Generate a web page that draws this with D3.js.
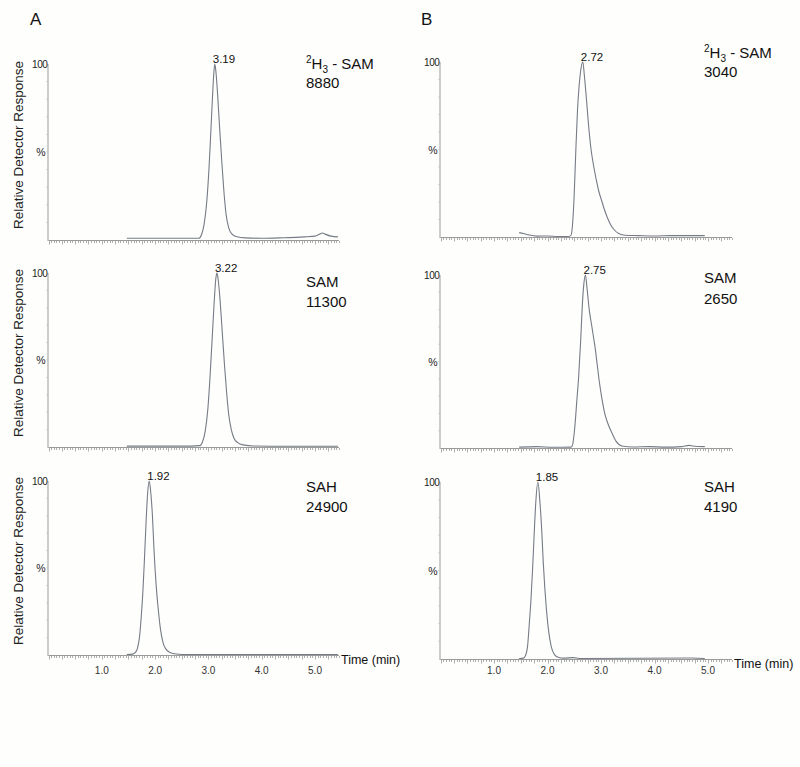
<!DOCTYPE html>
<html><head><meta charset="utf-8">
<script src="https://cdn.jsdelivr.net/npm/d3@7"></script>
<style>
html,body{margin:0;padding:0;background:#fefefc;}
svg{display:block;font-family:"Liberation Sans",Arial,sans-serif;}
</style></head>
<body>
<svg id="chart" width="800" height="767"></svg>
<script>
// ---- data (time in min, relative response in %) ----
const xTickLabels = ["1.0","2.0","3.0","4.0","5.0"];
const xTickValues = [1,2,3,4,5];
const panelLetters = ["A","B"];

const traceA1 = [[1.47,1],[2.5,1],[2.82,1],[2.87,3],[2.92,9],[2.97,22],[3.01,40],[3.04,58],[3.07,77],[3.10,94],[3.12,100],[3.14,96],[3.17,84],[3.21,64],[3.25,45],[3.29,28],[3.33,15],[3.38,7],[3.44,3.5],[3.52,2],[3.7,1.2],[4.0,1],[4.4,1.3],[4.8,1.8],[5.0,2.2],[5.08,3.2],[5.14,4],[5.2,3.2],[5.3,2.2],[5.43,1.8]];
const traceA2 = [[1.47,0.5],[2.5,0.5],[2.84,0.8],[2.89,3],[2.94,9],[2.99,22],[3.03,40],[3.07,62],[3.11,84],[3.14,97],[3.16,100],[3.18,97],[3.22,84],[3.26,66],[3.30,48],[3.34,32],[3.38,19],[3.43,10],[3.48,5],[3.55,2.5],[3.65,1.2],[3.85,0.6],[4.5,0.4],[5.43,0.4]];
const traceA3 = [[1.47,0.3],[1.58,0.5],[1.63,1.5],[1.67,4],[1.71,11],[1.74,22],[1.77,36],[1.80,55],[1.83,76],[1.86,93],[1.89,100],[1.92,93],[1.95,80],[1.98,60],[2.02,40],[2.06,26],[2.10,15],[2.15,7],[2.20,3.5],[2.28,1.5],[2.4,0.6],[2.6,0.3],[5.43,0.3]];
const traceB1 = [[1.47,2.5],[1.55,2],[1.65,1.2],[1.80,0.5],[2.0,0.6],[2.2,0.3],[2.40,0.3],[2.44,1],[2.47,8],[2.50,25],[2.53,50],[2.56,72],[2.59,86],[2.62,95],[2.66,100],[2.69,92],[2.73,78],[2.77,63],[2.81,51],[2.86,41],[2.91,33],[2.96,26],[3.01,21],[3.06,16],[3.12,11],[3.18,7],[3.25,4],[3.33,2],[3.45,1],[3.7,0.8],[4.0,0.6],[4.3,0.8],[4.6,0.8],[4.94,0.8]];
const traceB2 = [[1.47,0.5],[1.8,0.8],[2.1,0.4],[2.44,0.5],[2.47,2],[2.51,12],[2.55,28],[2.58,40],[2.62,62],[2.65,82],[2.68,95],[2.71,100],[2.74,92],[2.78,80],[2.83,70],[2.86,64],[2.89,58],[2.93,48],[2.97,38],[3.02,28],[3.07,20],[3.13,14],[3.20,9],[3.28,4],[3.39,1.2],[3.6,0.6],[3.9,0.8],[4.2,0.5],[4.5,0.8],[4.65,1.5],[4.72,1.2],[4.94,0.8]];
const traceB3 = [[1.47,0.3],[1.55,0.5],[1.59,2],[1.63,8],[1.66,20],[1.69,33],[1.72,50],[1.75,70],[1.78,88],[1.82,100],[1.86,88],[1.89,74],[1.92,55],[1.95,40],[1.98,28],[2.02,16],[2.07,7],[2.13,2.5],[2.2,1],[2.3,0.5],[2.48,0.8],[2.6,0.3],[4.7,0.6],[4.94,0.3]];

const peakLabels = ["3.19","3.22","1.92","2.72","2.75","1.85"];
const compoundNames = ["SAM","SAM","SAH","SAM","SAM","SAH"]; // first of each column is ²H₃ - SAM
const isLabeled = [true,false,false,true,false,false];
const peakAreas = ["8880","11300","24900","3040","2650","4190"];
const traces = [traceA1,traceA2,traceA3,traceB1,traceB2,traceB3];

// ---- layout ----
const cols = [
  {x0:48.5, px:53.3, letterX:30, nameX:306, yTitle:true},
  {x0:440.5, px:53.5, letterX:421, nameX:704, yTitle:false}
];
const rows = [
  [{top:64,base:240,n1:69,n2:88},{top:273,base:447,n1:287,n2:307},{top:481,base:655,n1:492,n2:512}],
  [{top:62,base:237,n1:58,n2:77},{top:275,base:448,n1:283,n2:304},{top:482,base:659,n1:492,n2:512}]
];
const xMax = 5.45;
const svg = d3.select("#chart");
const axisColor = "#9a9a9a", traceColor = "#767b86";

cols.forEach((c,ci)=>{
  svg.append("text").attr("x",c.letterX).attr("y",25).attr("font-size",17).attr("fill","#111").text(panelLetters[ci]);
  rows[ci].forEach((r,ri)=>{
    const k = ci*3+ri;
    const x = d3.scaleLinear().domain([0,xMax]).range([c.x0, c.x0 + xMax*c.px]);
    const y = d3.scaleLinear().domain([0,100]).range([r.base, r.top]);
    const g = svg.append("g");
    // x axis line
    g.append("line").attr("x1",x(0)).attr("x2",x(xMax)).attr("y1",r.base+0.5).attr("y2",r.base+0.5)
      .attr("stroke",axisColor).attr("stroke-width",1);
    // minor ticks
    const minor = d3.range(0, xMax+0.001, 0.05);
    g.selectAll("line.mt").data(minor).enter().append("line")
      .attr("x1",d=>Math.round(x(d))+0.5).attr("x2",d=>Math.round(x(d))+0.5)
      .attr("y1",r.base+1).attr("y2",d=>r.base+1+ (Math.abs(d/0.25-Math.round(d/0.25))<0.01 ? 3.5 : 2))
      .attr("stroke",axisColor).attr("stroke-width",0.8);
    // y axis
    g.append("line").attr("x1",x(0)-0.5).attr("x2",x(0)-0.5).attr("y1",y(100)).attr("y2",r.base+1)
      .attr("stroke",axisColor).attr("stroke-width",1);
    g.selectAll("line.yt").data(d3.range(10,100,10)).enter().append("line")
      .attr("x1",x(0)-2.5).attr("x2",x(0)-0.5).attr("y1",d=>y(d)).attr("y2",d=>y(d))
      .attr("stroke","#c8c8c8").attr("stroke-width",0.8);
    g.append("text").attr("x",x(0)-1).attr("y",y(100)+4).attr("text-anchor","end")
      .attr("font-size",10).attr("letter-spacing",-0.4).attr("fill","#222").text("100");
    g.append("text").attr("x",x(0)-3).attr("y",y(50)+4).attr("text-anchor","end")
      .attr("font-size",10.5).attr("fill","#222").text("%");
    // trace
    const line = d3.line().x(d=>x(d[0])).y(d=>y(d[1])).curve(d3.curveMonotoneX);
    g.append("path").datum(traces[k]).attr("d",line).attr("fill","none")
      .attr("stroke",traceColor).attr("stroke-width",1.1);
    // peak label
    const apex = traces[k].reduce((a,b)=>b[1]>a[1]?b:a);
    g.append("text").attr("x",x(apex[0])-2).attr("y",y(apex[1])-1.5)
      .attr("font-size",11.5).attr("fill","#111").text(peakLabels[k]);
    // compound label
    const t1 = g.append("text").attr("x",c.nameX).attr("y",r.n1).attr("font-size",15).attr("fill","#111");
    if (isLabeled[k]) {
      t1.append("tspan").attr("font-size",10).attr("dy",-6).text("2");
      t1.append("tspan").attr("dy",6).text("H");
      t1.append("tspan").attr("font-size",10).attr("dy",3.5).text("3");
      t1.append("tspan").attr("dy",-3.5).text(" - SAM");
    } else {
      t1.text(compoundNames[k]);
    }
    g.append("text").attr("x",c.nameX).attr("y",r.n2).attr("font-size",15).attr("fill","#111").text(peakAreas[k]);
    // y title
    if (c.yTitle) {
      const cy = (r.top + r.base)/2 - 7;
      g.append("text").attr("transform",`translate(${23},${cy}) rotate(-90)`).attr("text-anchor","middle")
        .attr("font-size",13.5).attr("fill","#222").text("Relative Detector Response");
    }
    // bottom row: tick labels and time title
    if (ri===2) {
      g.selectAll("text.tl").data(xTickValues).enter().append("text")
        .attr("x",d=>x(d)).attr("y",674).attr("text-anchor","middle")
        .attr("font-size",10).attr("fill","#333").text((d,i)=>xTickLabels[i]);
      g.append("text").attr("x",x(xMax)+2).attr("y",r.base+9).attr("font-size",12.5).attr("fill","#111").text("Time (min)");
    }
  });
});
</script>
</body></html>
